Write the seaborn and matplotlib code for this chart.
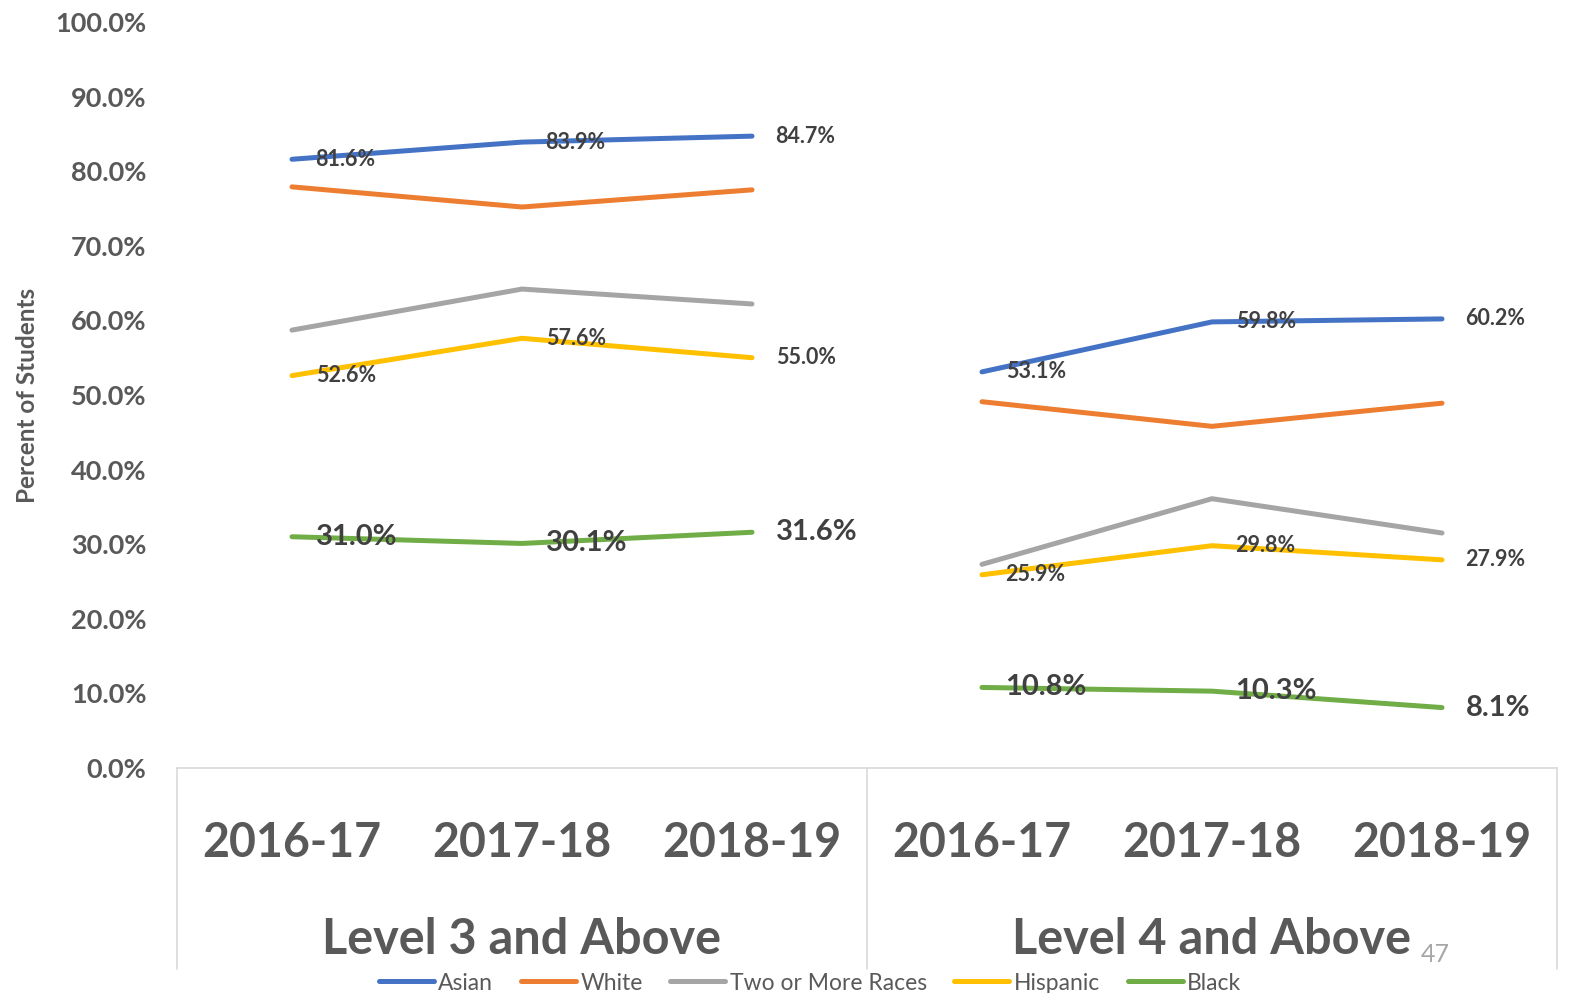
import matplotlib
matplotlib.use("Agg")
import matplotlib.pyplot as plt
import matplotlib.transforms as mtransforms
import seaborn as sns
import pandas as pd

# data (percent of students)
years = ["2016-17", "2017-18", "2018-19"]
groups = ["Level 3 and Above", "Level 4 and Above"]
races = ["Asian", "White", "Two or More Races", "Hispanic", "Black"]

asian = [81.6, 83.9, 84.7, 53.1, 59.8, 60.2]
white = [77.9, 75.2, 77.5, 49.1, 45.8, 48.9]
two_or_more = [58.7, 64.2, 62.2, 27.3, 36.1, 31.5]
hispanic = [52.6, 57.6, 55.0, 25.9, 29.8, 27.9]
black = [31.0, 30.1, 31.6, 10.8, 10.3, 8.1]

colors = ["#4472C4", "#ED7D31", "#A5A5A5", "#FFC000", "#70AD47"]
labelled = {"Asian": 15.5, "Hispanic": 15.5, "Black": 21}

rows = []
for race, vals in zip(races, [asian, white, two_or_more, hispanic, black]):
    for i, v in enumerate(vals):
        rows.append({"race": race, "group": groups[i // 3], "year": years[i % 3],
                     "pos": i, "value": v})
df = pd.DataFrame(rows)

sns.set_style("white")
plt.rcParams["font.family"] = ["Lato", "DejaVu Sans"]
text_gray = "#595959"

fig = plt.figure(figsize=(15.7, 9.93), dpi=100)
ax = fig.add_axes([177 / 1570, 1 - 768 / 993, (1557 - 177) / 1570, (768 - 22) / 993])

for g in groups:
    sub = df[df["group"] == g]
    sns.lineplot(data=sub, x="pos", y="value", hue="race", hue_order=races,
                 palette=colors, linewidth=3.6, ax=ax, legend=(g == groups[0]),
                 solid_capstyle="round")

# data labels
for race, size in labelled.items():
    sub = df[df["race"] == race]
    for _, r in sub.iterrows():
        ax.annotate(f"{r['value']:.1f}%", (r["pos"], r["value"]),
                    xytext=(17, 0), textcoords="offset points",
                    ha="left", va="center", fontsize=size,
                    fontweight="bold", color="#404040")

ax.set_xlim(-0.5, 5.5)
ax.set_ylim(0, 100)
ax.set_yticks(range(0, 101, 10))
ax.set_yticklabels([f"{t:.1f}%" for t in range(0, 101, 10)],
                   fontsize=19.5, fontweight="bold", color=text_gray)
ax.set_xticks(range(6))
ax.set_xticklabels(years * 2, fontsize=33.5, fontweight="bold", color=text_gray)
ax.tick_params(axis="y", length=0, pad=22)
ax.tick_params(axis="x", length=0, pad=38)
ax.set_xlabel("")
ax.set_ylabel("")

for s in ["top", "right", "left"]:
    ax.spines[s].set_visible(False)
ax.spines["bottom"].set_color("#D9D9D9")
ax.spines["bottom"].set_linewidth(1.2)

# category box separators
trans = mtransforms.blended_transform_factory(ax.transData, ax.transAxes)
for xv in [-0.5, 2.5, 5.5]:
    ax.plot([xv, xv], [0, -0.27], transform=trans, color="#D9D9D9",
            linewidth=1.2, clip_on=False)
for i, g in enumerate(groups):
    ax.text(1 + 3 * i, -0.23, g, transform=trans, ha="center", va="center",
            fontsize=35, fontweight="bold", color=text_gray)

fig.text(28 / 1570, 1 - 395 / 993, "Percent of Students", rotation=90,
         ha="center", va="center", fontsize=17.5, fontweight="bold", color=text_gray)
fig.text(1435 / 1570, 1 - 955 / 993, "47", ha="center", va="center",
         fontsize=18, color="#A6A6A6")

handles, labels = ax.get_legend_handles_labels()
ax.get_legend().remove()
leg = fig.legend(handles, labels, loc="center", bbox_to_anchor=(810 / 1570, 1 - 983 / 993),
                 ncol=5, frameon=False, fontsize=16.5, handlelength=2.4,
                 handletextpad=0.2, columnspacing=1.2, borderaxespad=0)
for t in leg.get_texts():
    t.set_color(text_gray)

fig.savefig("out.png", dpi=100)
